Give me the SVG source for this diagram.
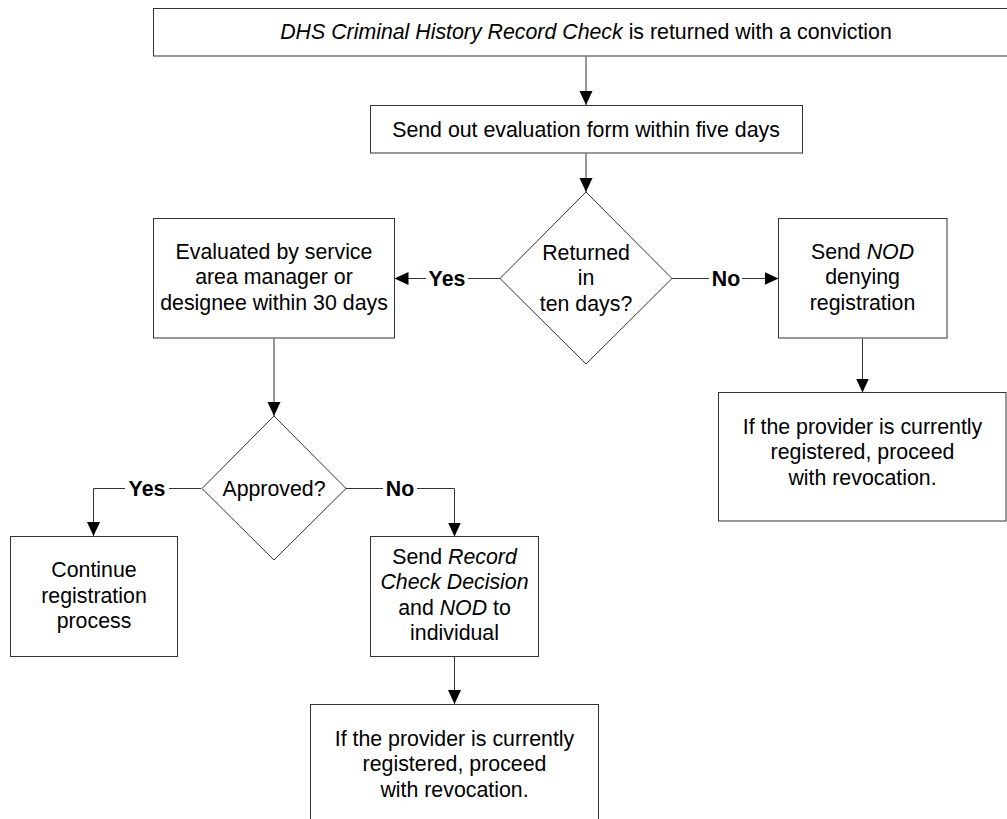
<svg xmlns="http://www.w3.org/2000/svg" width="1007" height="819" viewBox="0 0 1007 819">
  <defs>
    <style>
      .box { fill: #ffffff; stroke: #333333; stroke-width: 1; }
      .conn { fill: none; stroke: #333333; stroke-width: 1; }
      .t { font-family: "Liberation Sans", Arial, sans-serif; font-size: 21.33px; fill: #000000; text-anchor: middle; }
      .lbl { font-family: "Liberation Sans", Arial, sans-serif; font-size: 21.33px; font-weight: bold; fill: #000000; text-anchor: middle; }
      .bg { fill: #ffffff; stroke: none; }
      .i { font-style: italic; }
    </style>
    <marker id="ah" markerWidth="14" markerHeight="14" refX="14" refY="7" orient="auto" markerUnits="userSpaceOnUse" viewBox="0 0 14 14">
      <path d="M0,0.5 L14,7 L0,13.5 z" fill="#000000"/>
    </marker>
  </defs>
  <rect width="1007" height="819" fill="#ffffff"/>

  <g id="connectors">
    <path class="conn" d="M586,56.5 V105" marker-end="url(#ah)"/>
    <path class="conn" d="M586,153.5 V192" marker-end="url(#ah)"/>
    <path class="conn" d="M500,278.5 H394.5" marker-end="url(#ah)"/>
    <path class="conn" d="M672,278.5 H778.5" marker-end="url(#ah)"/>
    <path class="conn" d="M862.5,338.5 V392.5" marker-end="url(#ah)"/>
    <path class="conn" d="M274,338.5 V416" marker-end="url(#ah)"/>
    <path class="conn" d="M201,488.5 H93.5 V536" marker-end="url(#ah)"/>
    <path class="conn" d="M345,488.5 H454.5 V536.5" marker-end="url(#ah)"/>
    <path class="conn" d="M454.5,656.5 V704" marker-end="url(#ah)"/>
    <g id="labels">
      <rect class="bg" x="426" y="268" width="42" height="22"/>
      <text class="lbl" x="447" y="286">Yes</text>
      <rect class="bg" x="709" y="268" width="33" height="22"/>
      <text class="lbl" x="726" y="286">No</text>
      <rect class="bg" x="125" y="478" width="44" height="22"/>
      <text class="lbl" x="147" y="496">Yes</text>
      <rect class="bg" x="383" y="478" width="34" height="22"/>
      <text class="lbl" x="400" y="496">No</text>
    </g>
  </g>

  <g id="node-start">
    <rect class="box" x="153.5" y="8.5" width="866" height="47.5"/>
    <text class="t" x="586" y="39"><tspan class="i">DHS Criminal History Record Check</tspan> is returned with a conviction</text>
  </g>

  <g id="node-send-form">
    <rect class="box" x="370.5" y="105.5" width="432" height="47.5"/>
    <text class="t" x="586" y="136.5">Send out evaluation form within five days</text>
  </g>

  <g id="node-returned">
    <polygon class="box" points="586,192 672,278.5 586,364 500,278.5"/>
    <text class="t" x="586" y="259.5">Returned</text>
    <text class="t" x="586" y="285.1">in</text>
    <text class="t" x="586" y="310.7">ten days?</text>
  </g>

  <g id="node-evaluated">
    <rect class="box" x="153.5" y="218.5" width="241" height="119.5"/>
    <text class="t" x="274" y="258.5">Evaluated by service</text>
    <text class="t" x="274" y="284.1">area manager or</text>
    <text class="t" x="274" y="309.7">designee within 30 days</text>
  </g>

  <g id="node-send-nod">
    <rect class="box" x="778.5" y="218.5" width="168.5" height="119.5"/>
    <text class="t" x="862.5" y="258.5">Send <tspan class="i">NOD</tspan></text>
    <text class="t" x="862.5" y="284.1">denying</text>
    <text class="t" x="862.5" y="309.7">registration</text>
  </g>

  <g id="node-revocation-right">
    <rect class="box" x="718.5" y="392.5" width="287.5" height="128.5"/>
    <text class="t" x="862.5" y="433.5">If the provider is currently</text>
    <text class="t" x="862.5" y="459.1">registered, proceed</text>
    <text class="t" x="862.5" y="484.7">with revocation.</text>
  </g>

  <g id="node-approved">
    <polygon class="box" points="274,416 346,488.5 274,560 202,488.5"/>
    <text class="t" x="274" y="495.8">Approved?</text>
  </g>

  <g id="node-continue">
    <rect class="box" x="10.5" y="536.5" width="167" height="120"/>
    <text class="t" x="94" y="577">Continue</text>
    <text class="t" x="94" y="602.6">registration</text>
    <text class="t" x="94" y="628.2">process</text>
  </g>

  <g id="node-send-record">
    <rect class="box" x="370.5" y="536.5" width="168" height="120"/>
    <text class="t" x="454.5" y="563.5">Send <tspan class="i">Record</tspan></text>
    <text class="t i" x="454.5" y="589.1">Check Decision</text>
    <text class="t" x="454.5" y="614.7">and <tspan class="i">NOD</tspan> to</text>
    <text class="t" x="454.5" y="640.3">individual</text>
  </g>

  <g id="node-revocation-bottom">
    <rect class="box" x="310.5" y="704.5" width="288" height="130"/>
    <text class="t" x="454.5" y="745.5">If the provider is currently</text>
    <text class="t" x="454.5" y="771.1">registered, proceed</text>
    <text class="t" x="454.5" y="796.7">with revocation.</text>
  </g>
</svg>
